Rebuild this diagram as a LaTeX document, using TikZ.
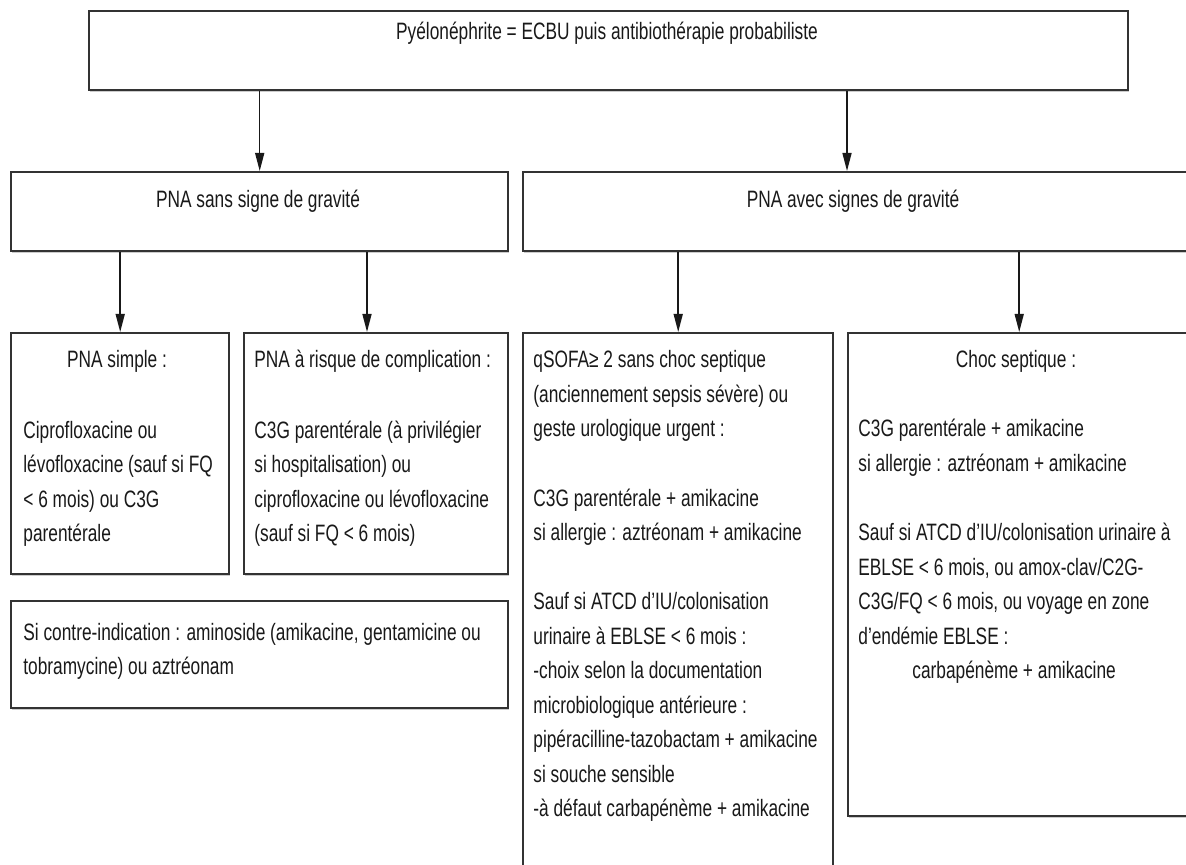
\documentclass[tikz,border=0pt]{standalone}
\usepackage{fontspec}
\setmainfont{Liberation Sans}[FakeStretch=0.73]
\usepackage{tikz}
\usetikzlibrary{arrows.meta}
\usetikzlibrary{shadows}

\newcommand{\boxlines}[1]{\begin{tabular}[t]{@{}l@{}}#1\end{tabular}}

\begin{document}
\begin{tikzpicture}[x=0.5pt, y=-0.5pt,
    box/.style={draw=black!80, line width=1.2pt, fill=white, inner sep=0pt, anchor=north west,
      drop shadow={shadow xshift=0.4pt, shadow yshift=-0.8pt, fill=black!40, opacity=0.5}},
    txt/.style={inner sep=0pt, text=black!90, font=\fontsize{11.85}{17.25}\selectfont},
    body/.style={txt, anchor=base west},
    head/.style={txt, anchor=base},
    arr/.style={-{Triangle[length=9pt, width=4.5pt]}, line width=0.75pt, black!90}]

        \def\gap{\\[17.25pt]}

        \useasboundingbox (0,0) rectangle (1186,865);
        \clip (0,0) rectangle (1186,865);

        % boxes
        \node[box, minimum width=519.5pt, minimum height=39.5pt] (top) at (88,10) {};
        \node[box, minimum width=248.5pt, minimum height=39.5pt] (sans) at (10,171) {};
        \node[box, minimum width=333.5pt, minimum height=39.5pt] (avec) at (522,171) {};
        \node[box, minimum width=109pt, minimum height=120.5pt] (simple) at (10,332) {};
        \node[box, minimum width=132pt, minimum height=120.5pt] (risque) at (243,332) {};
        \node[box, minimum width=248.5pt, minimum height=53.5pt] (contre) at (10,600) {};
        \node[box, minimum width=155pt, minimum height=266.5pt] (qsofa) at (522,332) {};
        \node[box, minimum width=171pt, minimum height=241.5pt] (choc) at (847,332) {};

        % texts
        \node[head] (top-t) at (607,40) {Pyélonéphrite = ECBU puis antibiothérapie probabiliste};
        \node[head] (sans-t) at (258,208) {PNA sans signe de gravité};
        \node[head] (avec-t) at (853,208) {PNA avec signes de gravité};

        \node[head] (simple-h) at (117,368) {PNA simple :};
        \node[body] (simple-t) at (23,438) {\boxlines{Ciprofloxacine ou\\lévofloxacine (sauf si FQ\\< 6 mois) ou C3G\\parentérale}};

        \node[body] (risque-h) at (254,368) {PNA à risque de complication :};
        \node[body] (risque-t) at (254,438) {\boxlines{C3G parentérale (à privilégier\\si hospitalisation) ou\\ciprofloxacine ou lévofloxacine\\(sauf si FQ < 6 mois)}};

        \node[body] (contre-t) at (23,640) {\boxlines{Si contre-indication : aminoside (amikacine, gentamicine ou\\tobramycine) ou aztréonam}};

        \node[body] (qsofa-t) at (533,368) {\boxlines{qSOFA≥ 2 sans choc septique\\(anciennement sepsis sévère) ou\\geste urologique urgent :\gap
          C3G parentérale + amikacine\\si allergie : aztréonam + amikacine\gap
          Sauf si ATCD d’IU/colonisation\\urinaire à EBLSE < 6 mois :\\-choix selon la documentation\\microbiologique antérieure :\\pipéracilline-tazobactam + amikacine\\si souche sensible\\-à défaut carbapénème + amikacine}};

        \node[head] (choc-h) at (1016,368) {Choc septique :};
        \node[body] (choc-t) at (858,437) {\boxlines{C3G parentérale + amikacine\\si allergie : aztréonam + amikacine\gap
          Sauf si ATCD d’IU/colonisation urinaire à\\EBLSE < 6 mois, ou amox-clav/C2G-\\C3G/FQ < 6 mois, ou voyage en zone\\d’endémie EBLSE :\\\hspace*{27pt}carbapénème + amikacine}};

        % arrows
        \draw[arr] (top.south -| sans.north) -- (sans.north);
        \draw[arr] (top.south -| 847,0) -- (avec.north -| 847,0);
        \draw[arr] (sans.south -| simple.north) -- (simple.north);
        \draw[arr] (sans.south -| 367,0) -- (risque.north -| 367,0);
        \draw[arr] (avec.south -| qsofa.north) -- (qsofa.north);
        \draw[arr] (avec.south -| choc.north) -- (choc.north);

      \end{tikzpicture}
\end{document}
